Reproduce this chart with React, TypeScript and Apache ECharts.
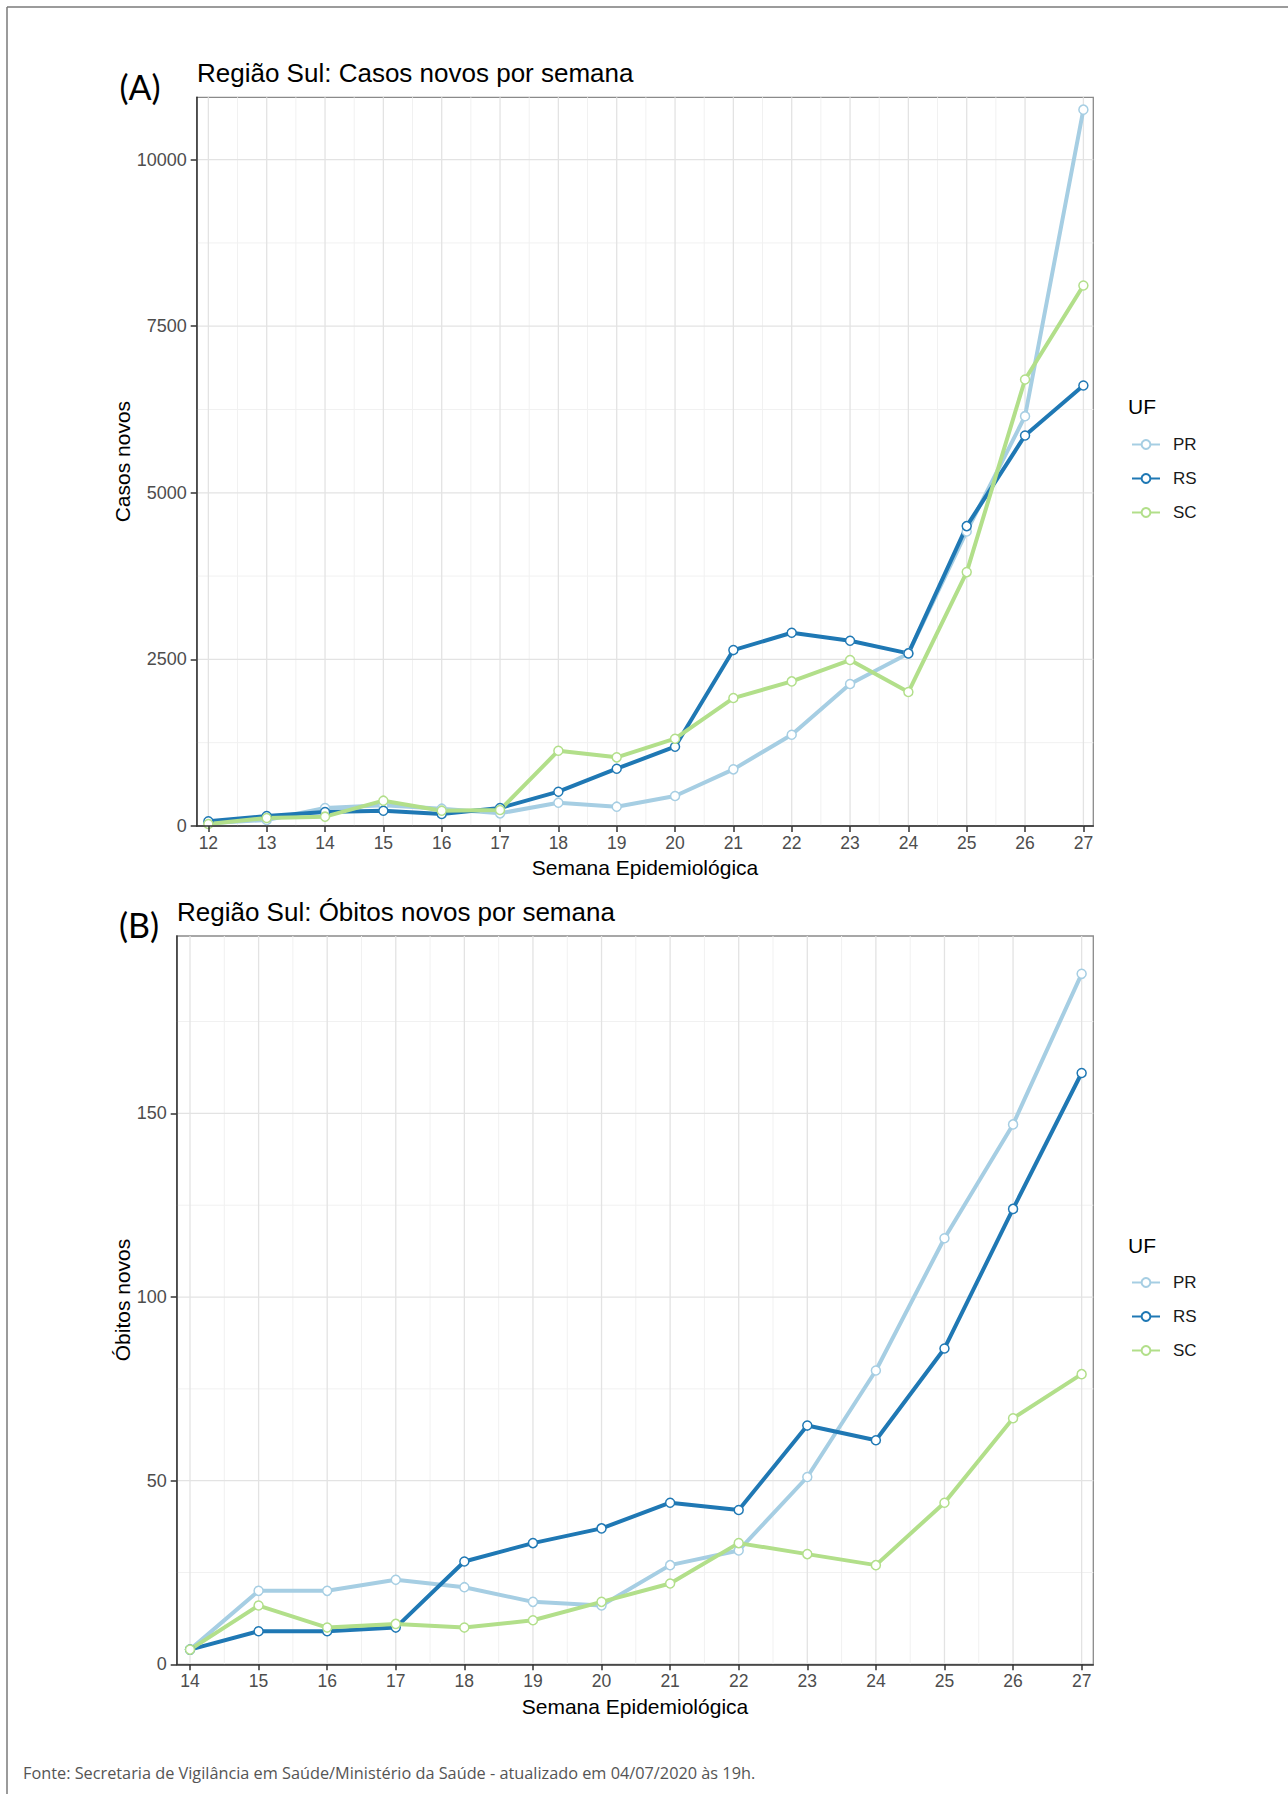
import React, { useEffect, useRef } from 'react';
import * as echarts from 'echarts';

// ---- Data ----
const weeksCasos = [12, 13, 14, 15, 16, 17, 18, 19, 20, 21, 22, 23, 24, 25, 26, 27];
const casosPR = [40, 90, 270, 310, 260, 190, 350, 290, 450, 850, 1370, 2130, 2590, 4420, 6150, 10750];
const casosRS = [70, 150, 210, 230, 180, 270, 515, 860, 1190, 2640, 2900, 2780, 2590, 4500, 5860, 6610];
const casosSC = [30, 120, 140, 380, 230, 240, 1130, 1030, 1310, 1920, 2170, 2490, 2010, 3810, 6700, 8110];

const weeksObitos = [14, 15, 16, 17, 18, 19, 20, 21, 22, 23, 24, 25, 26, 27];
const obitosPR = [4, 20, 20, 23, 21, 17, 16, 27, 31, 51, 80, 116, 147, 188];
const obitosRS = [4, 9, 9, 10, 28, 33, 37, 44, 42, 65, 61, 86, 124, 161];
const obitosSC = [4, 16, 10, 11, 10, 12, 17, 22, 33, 30, 27, 44, 67, 79];

const casosTicks = [0, 2500, 5000, 7500, 10000];
const obitosTicks = [0, 50, 100, 150];

const ufNames = ['PR', 'RS', 'SC'];
const ufColors = ['#a6cee3', '#1f78b4', '#b2df8a'];

const FONT = '"Liberation Sans", Arial, sans-serif';

const midpoints = (ticks: number[], upper: number) => {
  const out: number[] = [];
  for (let i = 0; i < ticks.length; i++) {
    const step = i < ticks.length - 1 ? ticks[i + 1] - ticks[i] : ticks[i] - ticks[i - 1];
    const m = ticks[i] + step / 2;
    if (m < upper) out.push(m);
  }
  return out;
};

const gridSeries = (
  idx: number,
  xVals: number[],
  yVals: number[],
  xr: number[],
  yr: number[],
  color: string,
  width: number
) => ({
  type: 'custom',
  xAxisIndex: idx,
  yAxisIndex: idx,
  silent: true,
  z: 1,
  data: [...xVals.map((v) => [0, v]), ...yVals.map((v) => [1, v])],
  renderItem: (params: any, api: any) => {
    const dir = api.value(0);
    const v = api.value(1);
    const p1 = dir === 0 ? api.coord([v, yr[0]]) : api.coord([xr[0], v]);
    const p2 = dir === 0 ? api.coord([v, yr[1]]) : api.coord([xr[1], v]);
    return {
      type: 'line',
      shape: { x1: p1[0], y1: p1[1], x2: p2[0], y2: p2[1] },
      style: { stroke: color, lineWidth: width },
    };
  },
});

export default function App() {
  const ref = useRef<HTMLDivElement>(null);

  useEffect(() => {
    document.body.style.margin = '0';
    if (!ref.current) return;
    const chart = echarts.init(ref.current, undefined, { renderer: 'svg' });

    const xrA = [11.8, 27.17];
    const yrA = [0, 10935];
    const xrB = [13.806, 27.17];
    const yrB = [0, 198.3];

    const mkX = (gi: number, xr: number[], ticks: number[]) => ({
      gridIndex: gi,
      type: 'value',
      min: xr[0],
      max: xr[1],
      z: 4,
      axisLine: { show: true, onZero: false, lineStyle: { color: '#333', width: 1.5 } },
      axisTick: { show: true, length: 6, customValues: ticks, lineStyle: { color: '#333', width: 1.5 } },
      axisLabel: { customValues: ticks, color: '#4d4d4d', fontSize: 17.5, margin: 8, fontFamily: FONT, formatter: (v: number) => String(v) },
      splitLine: { show: false },
    });
    const mkY = (gi: number, yr: number[], ticks: number[]) => ({
      gridIndex: gi,
      type: 'value',
      min: yr[0],
      max: yr[1],
      z: 4,
      axisLine: { show: true, onZero: false, lineStyle: { color: '#333', width: 1.5 } },
      axisTick: { show: true, length: 6, customValues: ticks, lineStyle: { color: '#333', width: 1.5 } },
      axisLabel: { customValues: ticks, color: '#4d4d4d', fontSize: 18, margin: 10, fontFamily: FONT, formatter: (v: number) => String(v) },
      splitLine: { show: false },
    });

    const mkLines = (gi: number, weeks: number[], sets: number[][]) =>
      sets.map((vals, k) => ({
        type: 'line',
        name: ufNames[k],
        xAxisIndex: gi,
        yAxisIndex: gi,
        data: weeks.map((w, i) => [w, vals[i]]),
        symbol: 'circle',
        symbolSize: 9,
        showSymbol: true,
        z: 3,
        lineStyle: { color: ufColors[k], width: 4 },
        itemStyle: { color: '#fff', borderColor: ufColors[k], borderWidth: 1.5 },
        emphasis: { disabled: true },
      }));

    const legendBase = {
      data: ufNames,
      orient: 'vertical',
      left: 1131,
      itemWidth: 28,
      itemHeight: 11,
      itemGap: 17,
      padding: 0,
      selectedMode: false,
      textStyle: { fontSize: 17, color: '#1a1a1a', fontFamily: FONT, padding: [0, 0, 0, 8] },
    };

    const txt = (text: string, x: number, y: number, size: number, opts: any = {}) => ({
      type: 'text',
      x,
      y,
      rotation: opts.rotation || 0,
      style: {
        text,
        fontSize: size,
        fontFamily: opts.family || FONT,
        fill: opts.fill || '#000',
        align: opts.align || 'center',
        verticalAlign: 'middle',
      },
    });

    chart.setOption({
      animation: false,
      textStyle: { fontFamily: FONT },
      grid: [
        { left: 196.7, top: 97.3, width: 896.6, height: 728.7, show: true, borderColor: '#8a8a8a', borderWidth: 1.3, containLabel: false },
        { left: 176.7, top: 936, width: 916.6, height: 728.3, show: true, borderColor: '#8a8a8a', borderWidth: 1.3, containLabel: false },
      ],
      xAxis: [mkX(0, xrA, weeksCasos), mkX(1, xrB, weeksObitos)],
      yAxis: [mkY(0, yrA, casosTicks), mkY(1, yrB, obitosTicks)],
      legend: [
        { ...legendBase, top: 436 },
        { ...legendBase, top: 1274 },
      ],
      series: [
        gridSeries(0, midpoints(weeksCasos, xrA[1]).slice(0, -1), midpoints(casosTicks, yrA[1]), xrA, yrA, '#f1f1f1', 1),
        gridSeries(0, weeksCasos, casosTicks.slice(1), xrA, yrA, '#e3e3e3', 1.3),
        gridSeries(1, midpoints(weeksObitos, xrB[1]).slice(0, -1), midpoints(obitosTicks, yrB[1]), xrB, yrB, '#f1f1f1', 1),
        gridSeries(1, weeksObitos, obitosTicks.slice(1), xrB, yrB, '#e3e3e3', 1.3),
        ...mkLines(0, weeksCasos, [casosPR, casosRS, casosSC]),
        ...mkLines(1, weeksObitos, [obitosPR, obitosRS, obitosSC]),
      ],
      graphic: [
        { type: 'line', shape: { x1: 7, y1: 7, x2: 1288, y2: 7 }, style: { stroke: '#7a7a7a', lineWidth: 1.5 } },
        { type: 'line', shape: { x1: 7, y1: 7, x2: 7, y2: 1794 }, style: { stroke: '#7a7a7a', lineWidth: 1.5 } },
        txt('(A)', 140, 86, 34, { family: 'Lato, sans-serif' }),
        txt('Região Sul: Casos novos por semana', 197, 72.5, 26, { align: 'left' }),
        txt('Casos novos', 122, 461.6, 21, { rotation: Math.PI / 2 }),
        txt('Semana Epidemiológica', 645, 867.5, 21),
        txt('UF', 1128, 406.7, 21, { align: 'left' }),
        txt('(B)', 139, 924, 34, { family: 'Lato, sans-serif' }),
        txt('Região Sul: Óbitos novos por semana', 177, 911.5, 26, { align: 'left' }),
        txt('Óbitos novos', 122, 1300, 21, { rotation: Math.PI / 2 }),
        txt('Semana Epidemiológica', 635, 1706, 21),
        txt('UF', 1128, 1245, 21, { align: 'left' }),
        txt('Fonte: Secretaria de Vigilância em Saúde/Ministério da Saúde - atualizado em 04/07/2020 às 19h.', 23, 1773, 16.3, {
          align: 'left',
          family: '"Open Sans", sans-serif',
          fill: '#555',
        }),
      ],
    });

    return () => chart.dispose();
  }, []);

  return <div ref={ref} style={{ width: 1288, height: 1794 }} />;
}
